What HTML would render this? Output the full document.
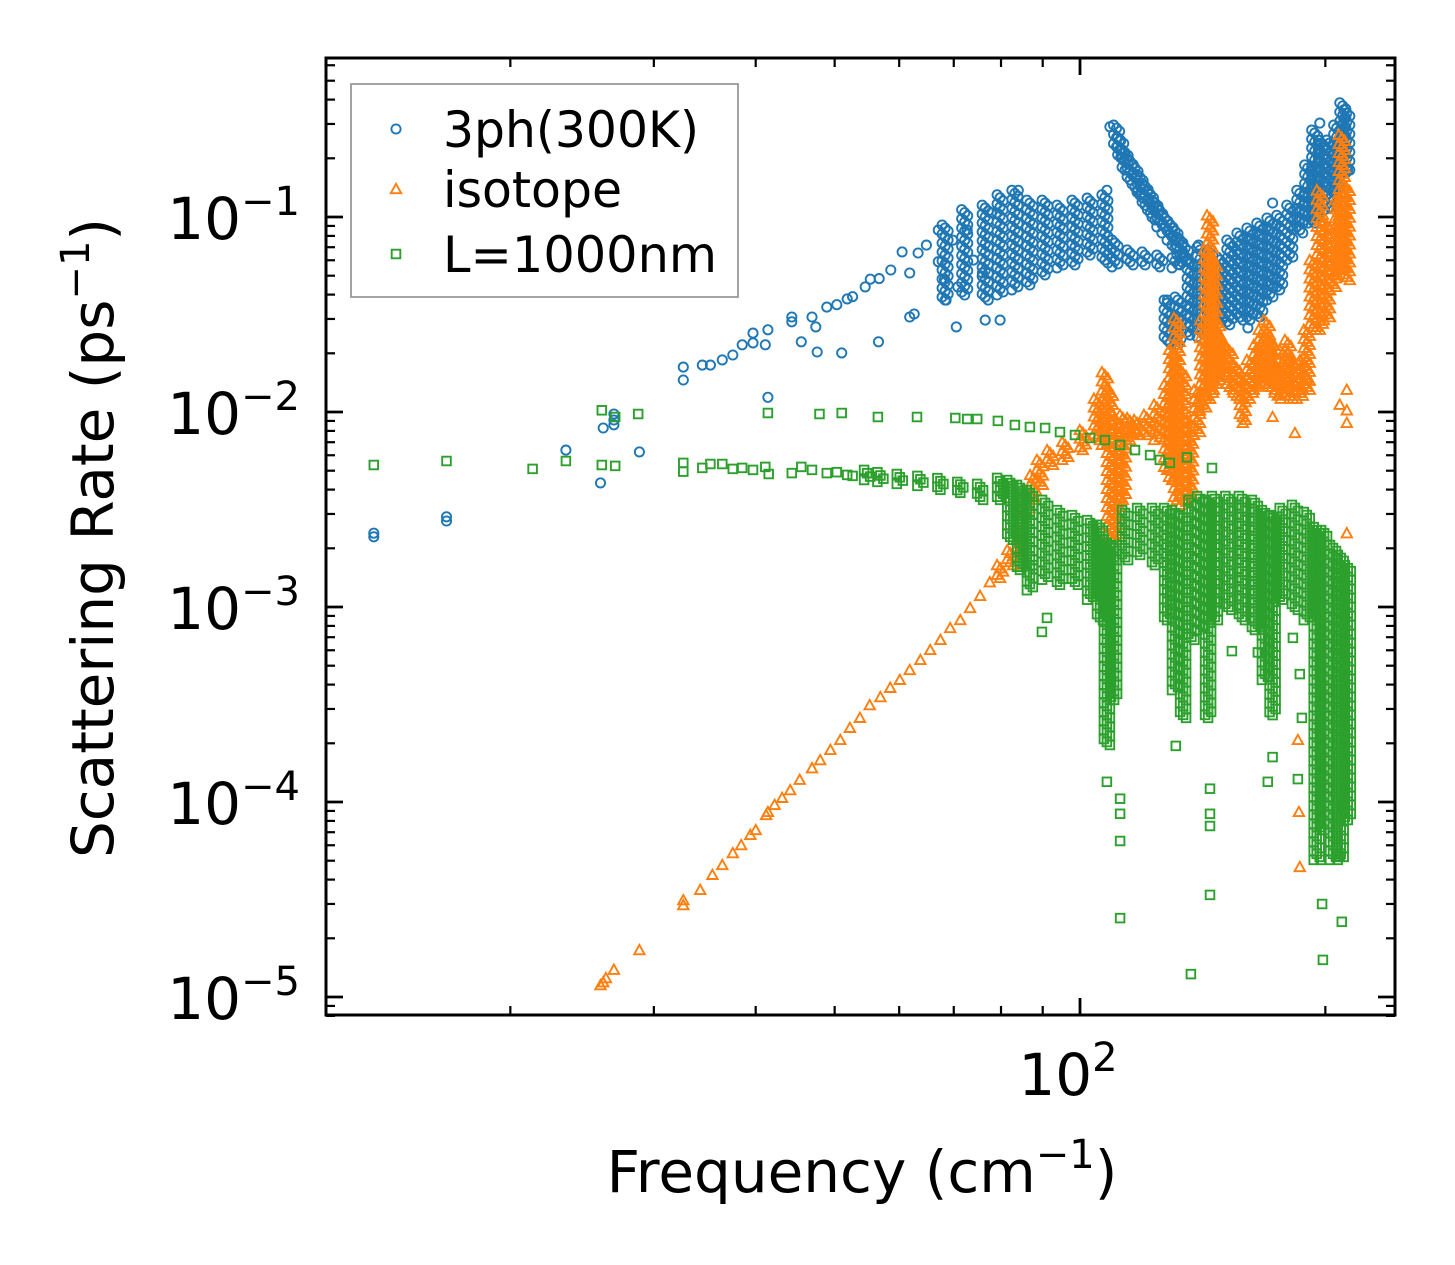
<!DOCTYPE html>
<html><head><meta charset="utf-8"><style>
html,body{margin:0;padding:0;background:#fff;}
svg{display:block;font-family:"DejaVu Sans","Liberation Sans",sans-serif;}
</style></head><body>
<svg id="chart" width="1455" height="1265" viewBox="0 0 1455 1265" xmlns="http://www.w3.org/2000/svg">
<rect x="0" y="0" width="1455" height="1265" fill="#fff"/>
<g id="marks"></g>
<g id="axes"></g>
<g id="legend"></g>
</svg>
<script>
// ---------- data ----------
const xMinorTicks = [20,30,40,50,60,70,80,90,200];
const xMajorTicks = [100];
const xMajorLabels = ["2"];
const yMajorTicks = [1e-1,1e-2,1e-3,1e-4,1e-5];
const yMajorLabels = ["\u22121","\u22122","\u22123","\u22124","\u22125"];

const blueSingles = [[13.6,0.00239],[13.6,0.00229],[16.7,0.00290],[16.7,0.00276],[23.4,0.00638],[25.8,0.00433],[26.0,0.00828],[26.8,0.00977],[26.8,0.00910],[26.8,0.00860],[28.8,0.00624],[32.6,0.0170],[32.6,0.0146],[34.4,0.0174],[35.2,0.0174],[36.4,0.0185],[37.5,0.0196],[38.5,0.0221],[39.7,0.0254],[39.7,0.0226],[41.1,0.0221],[41.4,0.0264],[41.4,0.0119],[44.3,0.0307],[44.3,0.0290],[45.5,0.0229],[46.9,0.0307],[47.4,0.0273],[47.6,0.0203],[48.9,0.0345],[50.3,0.0355],[51.0,0.0201],[51.8,0.0380],[52.6,0.0390],[54.5,0.0438],[55.3,0.0480],[56.6,0.0229],[56.7,0.0483],[58.6,0.0535],[60.5,0.0662],[61.8,0.0516],[61.8,0.0307],[62.6,0.0318],[63.3,0.0654],[64.8,0.0718],[67.0,0.0857],[67.0,0.0590],[68.5,0.0375],[69.8,0.0760],[68.2,0.0480],[70.5,0.0273],[72.7,0.0857],[70.8,0.0438],[74.0,0.0601],[75.9,0.0516],[77.8,0.105],[79.8,0.0296],[76.5,0.0296],[84.0,0.137],[107.9,0.137],[108.8,0.290],[139.8,0.0718],[160.7,0.0270],[172.3,0.118],[196.9,0.303],[213.0,0.174],[128.0,0.0375]];
const blueBands = [[68.3,0.0375,0.0910],[72.2,0.0398,0.109],[76.5,0.0375,0.115],[79.8,0.0398,0.130],[83.2,0.0423,0.137],[86.8,0.0448,0.122],[90.6,0.0505,0.122],[94.5,0.0548,0.115],[98.6,0.0568,0.122],[102.9,0.0638,0.125],[107.3,0.0581,0.130],
[110.4,0.0555,0.0762],[115.2,0.0568,0.0678],[120.2,0.0568,0.0662],[125.3,0.0555,0.0638],[130.8,0.0548,0.0618],[133.8,0.0568,0.0638],
[110.9,0.221,0.296],[112.2,0.195,0.255],[113.6,0.174,0.221],[115.2,0.155,0.200],[116.8,0.137,0.185],[118.5,0.125,0.165],[120.2,0.115,0.149],[122.0,0.105,0.135],[123.6,0.0966,0.122],[125.3,0.089,0.112],[127.1,0.0828,0.102],[129.0,0.076,0.095],[130.8,0.0694,0.0878],[132.6,0.064,0.079],[134.6,0.0588,0.0718],
[127.9,0.0226,0.0375],[131.9,0.0221,0.0389],[136.5,0.0248,0.0601],[140.4,0.0243,0.0702],[144.4,0.0264,0.0678],[148.5,0.0286,0.0624],[152.7,0.0280,0.0762],[157.1,0.0296,0.0828],[161.6,0.0296,0.0878],[166.2,0.0307,0.0931],[171.0,0.0375,0.0988],[175.8,0.0423,0.102],[180.9,0.0601,0.115],[186.1,0.0828,0.137],[190.3,0.0931,0.185],[194.1,0.0931,0.279],[197.8,0.109,0.248],[202.5,0.112,0.248],[206.5,0.137,0.296],[210.1,0.168,0.385],[212.5,0.174,0.354]];

const orangeSingles = [[25.8,0.0000115],[26.0,0.0000119],[26.2,0.0000125],[26.8,0.0000138],[28.8,0.0000174],[32.6,0.0000296],[32.6,0.0000314],[34.2,0.0000354],[35.4,0.0000423],[36.4,0.0000475],[37.5,0.0000547],[38.4,0.0000601],[39.4,0.0000678],[40.0,0.0000718],[41.2,0.0000857],[41.4,0.0000889],[42.2,0.0000966],[43.1,0.000105],[44.1,0.000115],[45.3,0.000130],[46.9,0.000149],[48.0,0.000164],[49.4,0.000185],[50.8,0.000208],[52.2,0.000240],[53.7,0.000270],[55.2,0.000314],[56.9,0.000345],[58.5,0.000385],[60.1,0.000423],[61.8,0.000475],[63.7,0.000535],[65.5,0.000602],[67.4,0.000678],[69.3,0.000780],[71.3,0.000857],[73.3,0.000988],[75.4,0.00114],[77.5,0.00134],
[189.8,0.0146],[212.5,0.0130],[212.5,0.00879],[183.5,0.00780],[172.3,0.00943],[158.4,0.00879],[212.5,0.00239],[185.1,0.000208],[185.6,0.0000889],[186.1,0.0000464],[212.5,0.0102],[208.3,0.0109]];
const orangeBands = [[79.8,0.00141,0.00164],[82.1,0.00164,0.00196],[84.4,0.00196,0.00248],[86.0,0.0030,0.0038],[87.6,0.00354,0.00475],[89.3,0.00423,0.00568],[91.9,0.00535,0.00638],[95.9,0.00568,0.00702],[100.8,0.00638,0.00809],[104.9,0.00718,0.0117],[107.3,0.00678,0.0160],[108.8,0.00221,0.0130],[110.9,0.00221,0.00910],[112.9,0.00354,0.00966],[115.2,0.00718,0.00932],[117.5,0.00762,0.00910],[120.8,0.00762,0.00966],[124.3,0.00718,0.0109],[127.9,0.00505,0.0138],[129.7,0.00448,0.0208],[131.5,0.00354,0.0303],[133.8,0.00334,0.0164],[136.5,0.00354,0.00910],[139.2,0.00762,0.0130],[141.6,0.0102,0.0296],[143.2,0.0117,0.0678],[144.4,0.0117,0.102],[146.0,0.0130,0.0601],[147.3,0.0146,0.0296],[149.8,0.0155,0.0234],[152.7,0.0130,0.0213],[155.7,0.0117,0.0174],[158.4,0.00910,0.0149],[161.6,0.0117,0.0185],[164.8,0.0130,0.0221],[167.1,0.0138,0.0264],[169.5,0.0146,0.0296],[171.9,0.0130,0.0234],[174.8,0.0117,0.0174],[177.3,0.0122,0.0208],[179.9,0.0122,0.0234],[182.5,0.0117,0.0185],[186.1,0.0117,0.0130],[187.7,0.0130,0.0185],[189.8,0.0130,0.0264],[193.0,0.0264,0.0601],[196.9,0.0264,0.137],[200.9,0.0296,0.0942],[204.4,0.0423,0.0638],[207.2,0.0505,0.122],[209.5,0.0535,0.264],[212.5,0.0475,0.146]];

const greenSingles = [[13.6,0.00535],[16.7,0.00561],[21.3,0.00511],[23.4,0.00561],[25.9,0.0102],[26.9,0.00943],[28.7,0.00977],[41.4,0.00988],[47.9,0.00977],[51.0,0.00988],[56.5,0.00943],[63.1,0.00943],[70.3,0.00932],[72.7,0.00921],[74.8,0.00921],[79.3,0.00900],[83.2,0.00858],[86.8,0.00838],[90.6,0.00828],[94.5,0.00789],[98.6,0.00762],[102.9,0.00736],[107.3,0.00718],[112,0.00678],[116.8,0.00638],[121.9,0.00601],[125.3,0.00568],[128.9,0.00548],[135.3,0.00585],[145.2,0.00516],
[25.9,0.00535],[26.9,0.00529],[32.6,0.00548],[32.6,0.00495],[34.4,0.00517],[35.2,0.00541],[36.4,0.00541],[37.5,0.00511],[38.5,0.00517],[39.7,0.00505],[41.1,0.00523],[41.5,0.00481],[44.3,0.00486],[45.5,0.00523],[46.9,0.00505],[48.9,0.00486],[50.3,0.00491],[51.8,0.00476],[52.6,0.00470],
[107.9,0.000127],[112,0.000104],[112,0.0000870],[112,0.0000631],[112,0.0000254],[136.8,0.0000131],[144.4,0.0000334],[144.4,0.0000753],[144.4,0.0000870],[144.4,0.000117],[131.1,0.000194],[170.0,0.000127],[172.3,0.000170],[185.1,0.000131],[187.2,0.000270],[186.1,0.000453],[198.2,0.0000300],[198.6,0.0000155],[209.5,0.0000243],[197.5,0.0000505],[208.3,0.0000528],[210.1,0.0000942],[182.5,0.000694],[153.6,0.000594],[165.3,0.000585],[89.8,0.000745],[91.1,0.000879],[87.6,0.00164]];
const greenBands = [[54.8,0.00448,0.00505],[56.9,0.00438,0.00491],[60.1,0.00428,0.00481],[63.7,0.00418,0.00470],[67.4,0.00399,0.00458],[71.3,0.00385,0.00438],[75.4,0.00354,0.00428],
[79.8,0.00354,0.00459],[82.1,0.00221,0.00448],[84.4,0.00155,0.00423],[86.8,0.00122,0.00398],[90.6,0.00138,0.00354],[94.5,0.00130,0.00314],[98.6,0.00130,0.00296],[102.9,0.00109,0.00279],[105.8,0.000857,0.00264],[107.9,0.000196,0.00221],[110.1,0.000334,0.00208],[113.6,0.00174,0.00314],[118.5,0.00185,0.00322],[123.6,0.00164,0.00322],[127.9,0.000857,0.00322],[130.8,0.000375,0.00314],[133.8,0.000270,0.00296],[137.0,0.000678,0.00354],[140.4,0.000762,0.00371],[143.6,0.000270,0.00354],[146.4,0.000857,0.00371],[152.1,0.000966,0.00371],[158.0,0.000857,0.00371],[163.9,0.000762,0.00354],[168.6,0.000423,0.00314],[172.3,0.000279,0.00296],[177.3,0.00109,0.00322],[183.5,0.000966,0.00334],[189.8,0.000857,0.00307],[195.2,0.0000505,0.00257],[199.3,0.0000718,0.00248],[204.4,0.0000505,0.00208],[208.9,0.0000505,0.00185],[213.1,0.0000809,0.00164]];

// ---------- scales ----------
const X100 = 1080, XDEC = 815;
const Y01 = 217, YDEC = 195;
function px(f){ return X100 + XDEC*Math.log10(f/100); }
function py(r){ return Y01 - YDEC*(Math.log10(r)+1); }
const L=326, R=1395, T=58, B=1015;
const NS="http://www.w3.org/2000/svg";
function el(tag, attrs, parent){
  const e=document.createElementNS(NS,tag);
  for(const k in attrs) e.setAttribute(k, attrs[k]);
  parent.appendChild(e); return e;
}
const marks=document.getElementById('marks');
const axes=document.getElementById('axes');
const legend=document.getElementById('legend');

const COLORS={blue:"#1f77b4",orange:"#ff7f0e",green:"#2ca02c"};

function marker(kind, x, y, parent){
  let m;
  if(kind==='circle'){
    m=el('circle',{cx:x.toFixed(1),cy:y.toFixed(1),r:4.6,fill:'none',stroke:COLORS.blue,'stroke-width':1.9},parent);
  } else if(kind==='tri'){
    const s=5.2;
    m=el('polygon',{points:`${(x).toFixed(1)},${(y-s).toFixed(1)} ${(x+s).toFixed(1)},${(y+s*0.8).toFixed(1)} ${(x-s).toFixed(1)},${(y+s*0.8).toFixed(1)}`,fill:'none',stroke:COLORS.orange,'stroke-width':1.9},parent);
  } else {
    const s=4.3;
    m=el('rect',{x:(x-s).toFixed(1),y:(y-s).toFixed(1),width:2*s,height:2*s,fill:'none',stroke:COLORS.green,'stroke-width':1.9},parent);
  }
  return m;
}
function drawSeries(name, kind, singles, bands){
  const g=el('g',{},marks);
  
  
  singles.forEach(d=>{
    const m=marker(kind, px(d[0]), py(d[1]), g);
    
    
  });
  bands.forEach(d=>{
    const x=px(d[0]), y0=py(d[2]), y1=py(d[1]);
    const n=Math.max(1, Math.round((y1-y0)/3));
    for(let i=0;i<=n;i++){
      const y=y0+(y1-y0)*i/n;
      const m=marker(kind, x+((i%3)-1)*3, y, g);
      
      
    }
  });
}
drawSeries('3ph-300k','circle',blueSingles,blueBands);
drawSeries('isotope','tri',orangeSingles,orangeBands);
drawSeries('l-1000nm','square',greenSingles,greenBands);

// ---------- ticks ----------
function tickX(v, len, w){
  const x=px(v);
  const a=el('line',{x1:x,y1:B,x2:x,y2:B-len,stroke:'#000','stroke-width':w},axes);
  
  
  const b=el('line',{x1:x,y1:T,x2:x,y2:T+len,stroke:'#000','stroke-width':w},axes);
  
  
}
function tickY(v, len, w){
  const y=py(v);
  if(y<T-1||y>B+1) return;
  const a=el('line',{x1:L,y1:y,x2:L+len,y2:y,stroke:'#000','stroke-width':w},axes);
  
  
  const b=el('line',{x1:R,y1:y,x2:R-len,y2:y,stroke:'#000','stroke-width':w},axes);
  
  
}
xMinorTicks.forEach(v=>tickX(v,9,2.2));
xMajorTicks.forEach(v=>tickX(v,17,2.8));
for(let e=-6;e<=0;e++){
  for(let k=2;k<=9;k++) tickY(k*Math.pow(10,e),9,2.2);
}
yMajorTicks.forEach(v=>tickY(v,17,2.8));

const frame=el('rect',{x:L,y:T,width:R-L,height:B-T,fill:'none',stroke:'#000','stroke-width':3},axes);



// tick labels
function sciLabel(x, y, exp, anchor, name){
  const t=el('text',{x:x,y:y,'font-size':58,'text-anchor':anchor,fill:'#000'},axes);
  
  
  const a=el('tspan',{},t); a.textContent='10';
  const b=el('tspan',{'font-size':40,dy:-24},t); b.textContent=exp;
  return t;
}
yMajorTicks.forEach((v,i)=>sciLabel(300, py(v)+22, yMajorLabels[i], 'end', 'y-tick-label'));
xMajorTicks.forEach((v,i)=>sciLabel(px(v)-12, 1095, xMajorLabels[i], 'middle', 'x-tick-label'));

// axis titles
const xt=el('text',{x:862,y:1192,'font-size':58,'text-anchor':'middle',fill:'#000'},axes);


el('tspan',{},xt).textContent='Frequency (cm';
el('tspan',{'font-size':40,dy:-24},xt).textContent='\u22121';
el('tspan',{dy:24},xt).textContent=')';

const yt=el('text',{x:0,y:0,'font-size':58,'text-anchor':'middle',fill:'#000',transform:'translate(113,538) rotate(-90)'},axes);


el('tspan',{},yt).textContent='Scattering Rate (ps';
el('tspan',{'font-size':40,dy:-24},yt).textContent='\u22121';
el('tspan',{dy:24},yt).textContent=')';

// ---------- legend ----------
const lb=el('rect',{x:351,y:84,width:387,height:213,fill:'#fff','fill-opacity':0.8,stroke:'#999','stroke-width':1.8},legend);


const legendLabels=['3ph(300K)','isotope','L=1000nm'];
const legendKinds=['circle','tri','square'];
const legendY=[129,189,254];
const legendW=[256,179,274];
legendLabels.forEach((lab,i)=>{
  const g=el('g',{},legend);
  
  
  const m=marker(legendKinds[i],396,legendY[i],g);
  
  
  const t=el('text',{x:443,y:legendY[i]+18,'font-size':50,fill:'#000',textLength:legendW[i],lengthAdjust:'spacingAndGlyphs'},g);
  
  
  t.textContent=lab;
});
</script>
</body></html>
